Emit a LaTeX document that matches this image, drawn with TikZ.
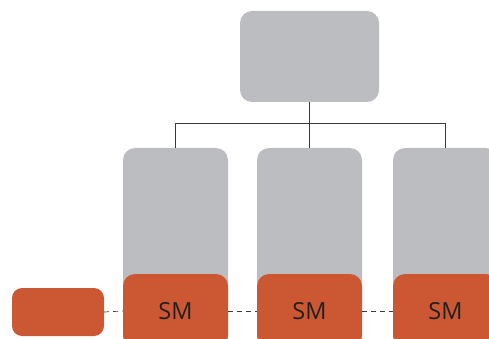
\documentclass[tikz,border=0pt]{standalone}
\usepackage{fontspec}
\setmainfont{Open Sans}
\definecolor{boxgray}{HTML}{BCBDC0}
\definecolor{smorange}{HTML}{CC5733}
\definecolor{linegray}{HTML}{3A3A3A}
\definecolor{txt}{HTML}{231F20}
\begin{document}
\begin{tikzpicture}[x=1pt,y=-1pt,
  graybox/.style={fill=boxgray,draw=none,rounded corners=12pt,inner sep=0pt},
  smbox/.style={fill=smorange,draw=none,rounded corners=12pt,inner sep=0pt,
    minimum width=105pt,minimum height=74pt,text=txt,font=\fontsize{23.5}{23.5}\selectfont},
  conn/.style={draw=linegray,line width=0.8pt},
  dashconn/.style={draw=linegray,line width=0.7pt,dash pattern=on 5pt off 4pt}]
\useasboundingbox (0,0) rectangle (489,339);
\clip (0,0) rectangle (489,339);
\node[graybox,minimum width=139pt,minimum height=91pt] (top) at (309.5,56.5) {};
\node[graybox,minimum width=105pt,minimum height=170pt] (c1) at (175.5,233) {};
\node[graybox,minimum width=105pt,minimum height=170pt] (c2) at (309.5,233) {};
\node[graybox,minimum width=105pt,minimum height=170pt] (c3) at (445.5,233) {};
\node[smbox] (s1) at (175.5,311) {SM};
\node[smbox] (s2) at (309.5,311) {SM};
\node[smbox] (s3) at (445.5,311) {SM};
\node[fill=smorange,rounded corners=10pt,inner sep=0pt,minimum width=92pt,minimum height=48pt] (l) at (58,312) {};
\coordinate (bar) at (309.5,123);
\draw[conn] (top.south) -- (bar);
\draw[conn] (bar) -| (c1.north);
\draw[conn] (bar) -| (c3.north);
\draw[conn] (bar) -- (c2.north);
\draw[dashconn] (l.east) -- (s1.west);
\draw[dashconn] (s1.east) -- (s2.west);
\draw[dashconn] (s2.east) -- (s3.west);
\end{tikzpicture}
\end{document}
